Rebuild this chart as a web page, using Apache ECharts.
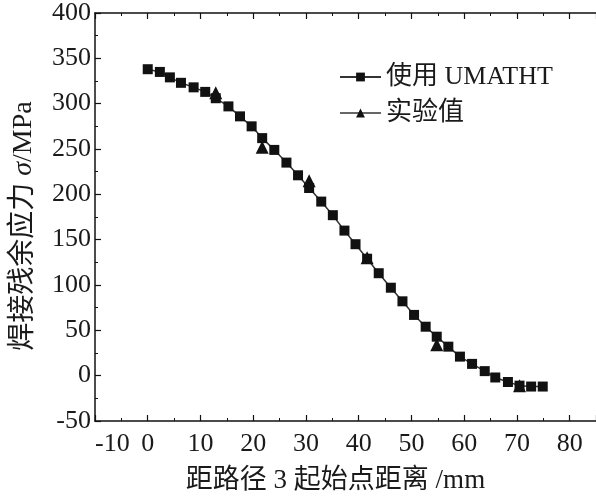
<!DOCTYPE html>
<html><head><meta charset="utf-8">
<script src="https://cdn.jsdelivr.net/npm/echarts@6/dist/echarts.min.js"></script>
<style>html,body{margin:0;padding:0;background:#fff}#c{width:596px;height:501px}</style>
</head><body><div id="c"></div>
<script>
const simX = [0, 2.3, 4.2, 6.3, 8.7, 10.9, 12.9, 15.3, 17.5, 19.7, 21.7, 24, 26.3, 28.5, 30.6, 32.9, 35.1, 37.3, 39.4, 41.6, 43.8, 46.1, 48.3, 50.5, 52.7, 54.8, 57, 59.2, 61.5, 63.9, 65.9, 68.3, 70.5, 72.7, 74.9];
const simY = [338, 335, 329, 323, 318, 313, 306, 297, 286, 275, 262, 249, 235, 221, 207, 192, 177, 160, 145, 129, 113, 97, 82, 67, 54, 43, 32, 21, 13, 5, -2, -7, -11, -12, -12];
const expX = [12.9, 21.7, 30.6, 41.6, 54.8, 70.5];
const expY = [312, 252, 215, 130, 34, -11];
const seriesNames = ['使用 UMATHT', '实验值'];
const xName = '距路径 3 起始点距离 /mm';
const yName = '焊接残余应力 {i|σ}/MPa';

const serif = '"Liberation Serif", "Times New Roman", "Noto Sans CJK SC", serif';
const txt = '#1a1a1a';
const fs = 26;
const chart = echarts.init(document.getElementById('c'));
const axisCommon = {
  type: 'value',
  axisLine: {show: true, onZero: false, lineStyle: {color: '#111', width: 1.5}},
  axisTick: {show: true, inside: true, length: 6, lineStyle: {color: '#111', width: 1.2}},
  minorTick: {show: true, splitNumber: 2, length: 3, lineStyle: {color: '#111', width: 1}},
  splitLine: {show: false}
};
chart.setOption({
  animation: false,
  backgroundColor: '#fff',
  grid: {left: 95, top: 13, right: -3, bottom: 80, containLabel: false},
  legend: {
    orient: 'vertical', left: 334, top: 59, itemGap: 10,
    itemWidth: 41, itemHeight: 11,
    textStyle: {fontFamily: serif, fontSize: fs, color: txt},
    data: [
      {name: seriesNames[0]},
      {name: seriesNames[1], lineStyle: {color: '#333', width: 1.5, opacity: 1}}
    ]
  },
  xAxis: [
    Object.assign({}, axisCommon, {
      min: -10, max: 85, interval: 10, position: 'bottom',
      name: xName, nameLocation: 'middle', nameGap: 46,
      nameTextStyle: {fontFamily: serif, fontSize: 27, color: txt, padding: [0, 20, 0, 0]},
      axisLabel: {fontFamily: serif, fontSize: fs, color: txt, margin: 10, showMaxLabel: false, alignMinLabel: 'left'}
    }),
    Object.assign({}, axisCommon, {
      min: -10, max: 85, interval: 10, position: 'top',
      axisLabel: {show: false}
    })
  ],
  yAxis: Object.assign({}, axisCommon, {
    min: -50, max: 400, interval: 50,
    name: yName, nameLocation: 'middle', nameGap: 57, nameRotate: 90,
    nameTextStyle: {fontFamily: serif, fontSize: 28, color: txt, padding: [0, 18, 0, 0],
      rich: {i: {fontFamily: serif, fontStyle: 'italic', fontSize: 28, color: txt}}},
    axisLabel: {fontFamily: serif, fontSize: fs, color: txt, margin: 4}
  }),
  series: [
    {
      name: seriesNames[0], type: 'line',
      data: simX.map((x, i) => [x, simY[i]]),
      symbol: 'rect', symbolSize: 10,
      lineStyle: {color: '#333', width: 1.5},
      itemStyle: {color: '#111'}
    },
    {
      name: seriesNames[1], type: 'line',
      data: expX.map((x, i) => [x, expY[i]]),
      symbol: 'triangle', symbolSize: 13,
      lineStyle: {width: 0, opacity: 0},
      itemStyle: {color: '#111'},
      z: 3
    }
  ]
});
</script>
</body></html>
